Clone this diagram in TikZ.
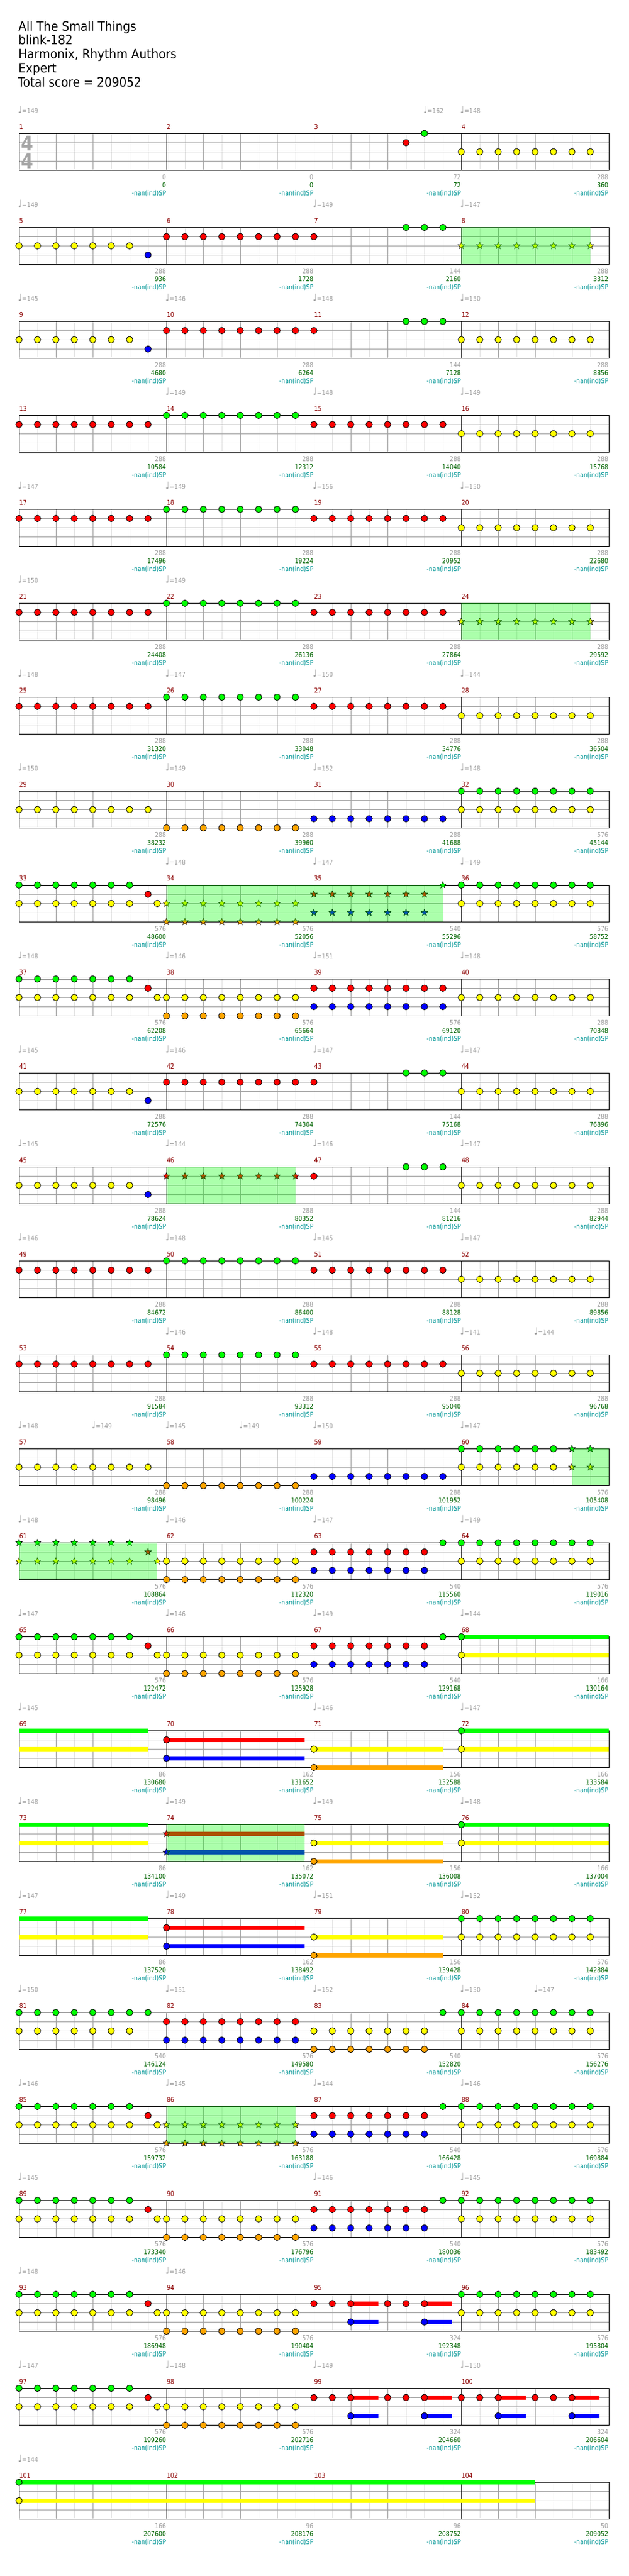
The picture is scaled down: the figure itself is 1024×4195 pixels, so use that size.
\documentclass[tikz,border=0pt]{standalone}
\usepackage{fontspec}
\usetikzlibrary{shapes.geometric}
\newfontfamily\smf{DejaVu Sans}[FakeStretch=0.87]
\newfontfamily\ttlf{DejaVu Sans}[FakeStretch=0.9]
\definecolor{ln0}{RGB}{0,255,0}
\definecolor{ln1}{RGB}{255,0,0}
\definecolor{ln2}{RGB}{255,255,0}
\definecolor{ln3}{RGB}{0,0,255}
\definecolor{ln4}{RGB}{255,165,0}
\definecolor{mnum}{RGB}{140,0,0}
\definecolor{tgray}{RGB}{160,160,160}
\definecolor{sgreen}{RGB}{0,100,0}
\definecolor{tealx}{RGB}{0,150,150}
\definecolor{lgrid}{RGB}{224,224,224}
\definecolor{ggrid}{RGB}{160,160,160}
\definecolor{tsig}{RGB}{165,165,165}
\pgfdeclarelayer{bgl}\pgfdeclarelayer{gridl}\pgfdeclarelayer{susl}\pgfdeclarelayer{ovl}
\pgfsetlayers{bgl,gridl,susl,main,ovl}
\tikzset{
  notec/.style={draw=black,line width=0.8},
  starn/.style={star,star points=5,star point ratio=2.3,minimum size=11.5,inner sep=0pt,draw=black,line width=0.6},
  ovfill/.style={fill=ln0,fill opacity=0.33},
  lab/.style={anchor=base west,inner sep=0pt,font=\smf\fontsize{11}{13}\selectfont},
  labe/.style={anchor=base east,inner sep=0pt,font=\smf\fontsize{11}{13}\selectfont},
  ttl/.style={anchor=base west,inner sep=0pt,font=\ttlf\fontsize{21}{23}\selectfont},
  tsg/.style={anchor=base,inner sep=0pt,text=tsig,font=\smf\bfseries\fontsize{33}{33}\selectfont}
}
\newcommand\gPos[3]{\pgfmathsetmacro\px{31+240*mod(#1-1,4)+30*(#2)}\pgfmathsetmacro\py{217.3+153*floor((#1-1)/4)+15*(#3)}}
\newcommand\gN[3]{\foreach \e in {#3}{\gPos{#1}{\e}{#2}\draw[notec,fill=ln#2] (\px,\py) circle[radius=5.3];}}
\newcommand\gS[3]{\foreach \e in {#3}{\gPos{#1}{\e}{#2}\node[starn,fill=ln#2] (st#1-#2-\e) at (\px,\py) {};}}
\newcommand\gSus[4]{\gPos{#1}{#3}{#2}\pgfmathsetmacro\pxe{31+240*mod(#1-1,4)+30*(#4)}\begin{pgfonlayer}{susl}\fill[ln#2] (\px,\py-3.3) rectangle (\pxe,\py+3.3);\end{pgfonlayer}}
\newcommand\gOv[3]{\gPos{#1}{#2}{0}\pgfmathsetmacro\pxe{31+240*mod(#1-1,4)+30*(#3)}\begin{pgfonlayer}{ovl}\fill[ovfill] (\px,\py) rectangle (\pxe,\py+60);\end{pgfonlayer}}
\newcommand\gM[3]{\pgfmathsetmacro\mxa{31+240*mod(#1-1,4)}\pgfmathsetmacro\mya{217.3+153*floor((#1-1)/4)}%
  \node[lab,text=mnum] (ml#1) at (\mxa+0.3,\mya-7.3) {#1};%
  \node[labe,text=tgray] (ms#1) at (\mxa+239.5,\mya+75.4) {#2};%
  \node[labe,text=sgreen] (mc#1) at (\mxa+239.5,\mya+88.4) {#3};%
  \node[labe,text=tealx] (mp#1) at (\mxa+239.5,\mya+101.4) {-nan(ind)SP};}
\newcommand\gT[3]{\gPos{#1}{#2}{0}\node[lab,text=tgray] (tp#1-#2) at (\px-1.8,\py-33.3) {{\fontsize{16}{16}\selectfont ♩}=#3};}
\newcommand\gPatA[1]{\gN{#1}{0}{0,...,6}\gN{#1}{1}{7}\gN{#1}{2}{0,...,6}\gN{#1}{2}{7.5}}
\newcommand\gPatB[1]{\gN{#1}{2}{0,...,7}\gN{#1}{4}{0,...,7}}
\newcommand\gPatC[1]{\gN{#1}{1}{0,...,6}\gN{#1}{3}{0,...,6}\gN{#1}{0}{7}}
\newcommand\gPatD[1]{\gN{#1}{0}{0,...,7}\gN{#1}{2}{0,...,7}}
\newcommand\gPatE[1]{\gSus{#1}{1}{2}{3.5}\gSus{#1}{1}{6}{7.5}\gSus{#1}{3}{2}{3.5}\gSus{#1}{3}{6}{7.5}\gN{#1}{1}{0,1,2,4,5,6}\gN{#1}{3}{2,6}}
\begin{document}
\begin{tikzpicture}[x=1pt,y=-1pt]
\begin{pgfonlayer}{bgl}
\fill[white] (0,0) rectangle (1024,4195);
\end{pgfonlayer}
\useasboundingbox (0,0) rectangle (1024,4195);
% title
\node[ttl] (t1) at (30,50) {All The Small Things};
\node[ttl] (t2) at (30,72.8) {blink-182};
\node[ttl] (t3) at (30,95.6) {Harmonix, Rhythm Authors};
\node[ttl] (t4) at (30,118.4) {Expert};
\node[ttl] (t5) at (29,141.5) {Total score = 209052};
% grids
\begin{pgfonlayer}{gridl}
\foreach \r in {0,...,25}{
  \pgfmathsetmacro\ya{217.3+153*\r}
  \foreach \k in {0,...,15}{\draw[lgrid,line width=1] ({61+60*\k},\ya) -- ++(0,60);}
  \foreach \k in {1,2,3,5,6,7,9,10,11,13,14,15}{\draw[ggrid,line width=1] ({31+60*\k},\ya) -- ++(0,60);}
  \foreach \k in {1,2,3}{\draw[ggrid,line width=1] (31,\ya+15*\k) -- (991,\ya+15*\k);}
  \draw[black,line width=1] (31,\ya) rectangle (991,\ya+60);
  \foreach \k in {1,2,3}{\draw[black,line width=1] ({31+240*\k},\ya) -- ++(0,60);}
}
\end{pgfonlayer}
\node[tsg] (ts1) at (44.5,245) {4};
\node[tsg] (ts2) at (44.5,274) {4};
% row 1
\gN{3}{1}{5}\gN{3}{0}{6}\gN{4}{2}{0,...,7}
% row 2
\gN{5}{2}{0,...,6}\gN{5}{3}{7}\gN{6}{1}{0,...,7}\gN{7}{1}{0}\gN{7}{0}{5,6,7}\gS{8}{2}{0,...,7}\gOv{8}{0}{7}
% row 3
\gN{9}{2}{0,...,6}\gN{9}{3}{7}\gN{10}{1}{0,...,7}\gN{11}{1}{0}\gN{11}{0}{5,6,7}\gN{12}{2}{0,...,7}
% rows 4,5
\gN{13}{1}{0,...,7}\gN{14}{0}{0,...,7}\gN{15}{1}{0,...,7}\gN{16}{2}{0,...,7}
\gN{17}{1}{0,...,7}\gN{18}{0}{0,...,7}\gN{19}{1}{0,...,7}\gN{20}{2}{0,...,7}
% row 6
\gN{21}{1}{0,...,7}\gN{22}{0}{0,...,7}\gN{23}{1}{0,...,7}\gS{24}{2}{0,...,7}\gOv{24}{0}{7}
% row 7
\gN{25}{1}{0,...,7}\gN{26}{0}{0,...,7}\gN{27}{1}{0,...,7}\gN{28}{2}{0,...,7}
% row 8
\gN{29}{2}{0,...,7}\gN{30}{4}{0,...,7}\gN{31}{3}{0,...,7}\gPatD{32}
% row 9
\gPatA{33}\gS{34}{2}{0,...,7}\gS{34}{4}{0,...,7}\gS{35}{1}{0,...,6}\gS{35}{3}{0,...,6}\gS{35}{0}{7}\gOv{34}{0}{15}\gPatD{36}
% row 10
\gPatA{37}\gPatB{38}\gN{39}{1}{0,...,7}\gN{39}{3}{0,...,7}\gN{40}{2}{0,...,7}
% row 11
\gN{41}{2}{0,...,6}\gN{41}{3}{7}\gN{42}{1}{0,...,7}\gN{43}{1}{0}\gN{43}{0}{5,6,7}\gN{44}{2}{0,...,7}
% row 12
\gN{45}{2}{0,...,6}\gN{45}{3}{7}\gS{46}{1}{0,...,7}\gOv{46}{0}{7}\gN{47}{1}{0}\gN{47}{0}{5,6,7}\gN{48}{2}{0,...,7}
% row 13
\gN{49}{1}{0,...,7}\gN{50}{0}{0,...,7}\gN{51}{1}{0,...,7}\gN{52}{2}{0,...,7}
% row 14
\gN{53}{1}{0,...,7}\gN{54}{0}{0,...,7}\gN{55}{1}{0,...,7}\gN{56}{2}{0,...,7}
% row 15
\gN{57}{2}{0,...,7}\gN{58}{4}{0,...,7}\gN{59}{3}{0,...,7}\gN{60}{0}{0,...,5}\gN{60}{2}{0,...,5}\gS{60}{0}{6,7}\gS{60}{2}{6,7}\gOv{60}{6}{8}
% row 16
\gS{61}{0}{0,...,6}\gS{61}{2}{0,...,6}\gS{61}{1}{7}\gS{61}{2}{7.5}\gOv{61}{0}{7.5}\gPatB{62}\gPatC{63}\gPatD{64}
% row 17
\gPatA{65}\gPatB{66}\gPatC{67}\gSus{68}{0}{0}{8}\gSus{68}{2}{0}{8}\gN{68}{0}{0}\gN{68}{2}{0}
% row 18
\gSus{69}{0}{0}{7}\gSus{69}{2}{0}{7}
\gSus{70}{1}{0}{7.5}\gSus{70}{3}{0}{7.5}\gN{70}{1}{0}\gN{70}{3}{0}
\gSus{71}{2}{0}{7}\gSus{71}{4}{0}{7}\gN{71}{2}{0}\gN{71}{4}{0}
\gSus{72}{0}{0}{8}\gSus{72}{2}{0}{8}\gN{72}{0}{0}\gN{72}{2}{0}
% row 19
\gSus{73}{0}{0}{7}\gSus{73}{2}{0}{7}
\gSus{74}{1}{0}{7.5}\gSus{74}{3}{0}{7.5}\gS{74}{1}{0}\gS{74}{3}{0}\gOv{74}{0}{7.5}
\gSus{75}{2}{0}{7}\gSus{75}{4}{0}{7}\gN{75}{2}{0}\gN{75}{4}{0}
\gSus{76}{0}{0}{8}\gSus{76}{2}{0}{8}\gN{76}{0}{0}\gN{76}{2}{0}
% row 20
\gSus{77}{0}{0}{7}\gSus{77}{2}{0}{7}
\gSus{78}{1}{0}{7.5}\gSus{78}{3}{0}{7.5}\gN{78}{1}{0}\gN{78}{3}{0}
\gSus{79}{2}{0}{7}\gSus{79}{4}{0}{7}\gN{79}{2}{0}\gN{79}{4}{0}
\gPatD{80}
% row 21
\gN{81}{0}{0,...,7}\gN{81}{2}{0,...,6}\gN{82}{1}{0,...,7}\gN{82}{3}{0,...,7}\gN{83}{2}{0,...,6}\gN{83}{4}{0,...,6}\gN{83}{0}{7}\gPatD{84}
% row 22
\gPatA{85}\gS{86}{2}{0,...,7}\gS{86}{4}{0,...,7}\gOv{86}{0}{7}\gPatC{87}\gPatD{88}
% row 23
\gPatA{89}\gPatB{90}\gPatC{91}\gPatD{92}
% row 24
\gPatA{93}\gPatB{94}\gPatE{95}\gPatD{96}
% row 25
\gPatA{97}\gPatB{98}\gPatE{99}\gPatE{100}
% row 26
\gSus{101}{0}{0}{28}\gSus{101}{2}{0}{28}\gN{101}{0}{0}\gN{101}{2}{0}
% tempos
\foreach \mm/\ee/\vv in {1/0/149,3/6/162,4/0/148,5/0/149,7/0/149,8/0/147,
 9/0/145,10/0/146,11/0/148,12/0/150,14/0/149,15/0/148,16/0/149,
 17/0/147,18/0/149,19/0/156,20/0/150,21/0/150,22/0/149,
 25/0/148,26/0/147,27/0/150,28/0/144,29/0/150,30/0/149,31/0/152,32/0/148,
 34/0/148,35/0/147,36/0/149,37/0/148,38/0/146,39/0/151,40/0/148,
 41/0/145,42/0/146,43/0/147,44/0/147,45/0/145,46/0/144,47/0/146,48/0/147,
 49/0/146,50/0/148,51/0/145,52/0/147,54/0/146,55/0/148,56/0/141,56/4/144,
 57/0/148,57/4/149,58/0/145,58/4/149,59/0/150,60/0/147,
 61/0/148,62/0/146,63/0/147,64/0/149,65/0/147,66/0/146,67/0/149,68/0/144,
 69/0/145,71/0/146,72/0/147,73/0/148,74/0/149,75/0/149,76/0/148,
 77/0/147,78/0/149,79/0/151,80/0/152,81/0/150,82/0/151,83/0/152,84/0/150,84/4/147,
 85/0/146,86/0/145,87/0/144,88/0/146,89/0/145,91/0/146,92/0/145,
 93/0/148,94/0/146,97/0/147,98/0/148,99/0/149,100/0/150,101/0/144}{\gT{\mm}{\ee}{\vv}}
% measure numbers and scores
\foreach \mm/\ga/\gb in {1/0/0,2/0/0,3/72/72,4/288/360,
 5/288/936,6/288/1728,7/144/2160,8/288/3312,
 9/288/4680,10/288/6264,11/144/7128,12/288/8856,
 13/288/10584,14/288/12312,15/288/14040,16/288/15768,
 17/288/17496,18/288/19224,19/288/20952,20/288/22680,
 21/288/24408,22/288/26136,23/288/27864,24/288/29592,
 25/288/31320,26/288/33048,27/288/34776,28/288/36504,
 29/288/38232,30/288/39960,31/288/41688,32/576/45144,
 33/576/48600,34/576/52056,35/540/55296,36/576/58752,
 37/576/62208,38/576/65664,39/576/69120,40/288/70848,
 41/288/72576,42/288/74304,43/144/75168,44/288/76896,
 45/288/78624,46/288/80352,47/144/81216,48/288/82944,
 49/288/84672,50/288/86400,51/288/88128,52/288/89856,
 53/288/91584,54/288/93312,55/288/95040,56/288/96768,
 57/288/98496,58/288/100224,59/288/101952,60/576/105408,
 61/576/108864,62/576/112320,63/540/115560,64/576/119016,
 65/576/122472,66/576/125928,67/540/129168,68/166/130164,
 69/86/130680,70/162/131652,71/156/132588,72/166/133584,
 73/86/134100,74/162/135072,75/156/136008,76/166/137004,
 77/86/137520,78/162/138492,79/156/139428,80/576/142884,
 81/540/146124,82/576/149580,83/540/152820,84/576/156276,
 85/576/159732,86/576/163188,87/540/166428,88/576/169884,
 89/576/173340,90/576/176796,91/540/180036,92/576/183492,
 93/576/186948,94/576/190404,95/324/192348,96/576/195804,
 97/576/199260,98/576/202716,99/324/204660,100/324/206604,
 101/166/207600,102/96/208176,103/96/208752,104/50/209052}{\gM{\mm}{\ga}{\gb}}
\end{tikzpicture}
\end{document}
